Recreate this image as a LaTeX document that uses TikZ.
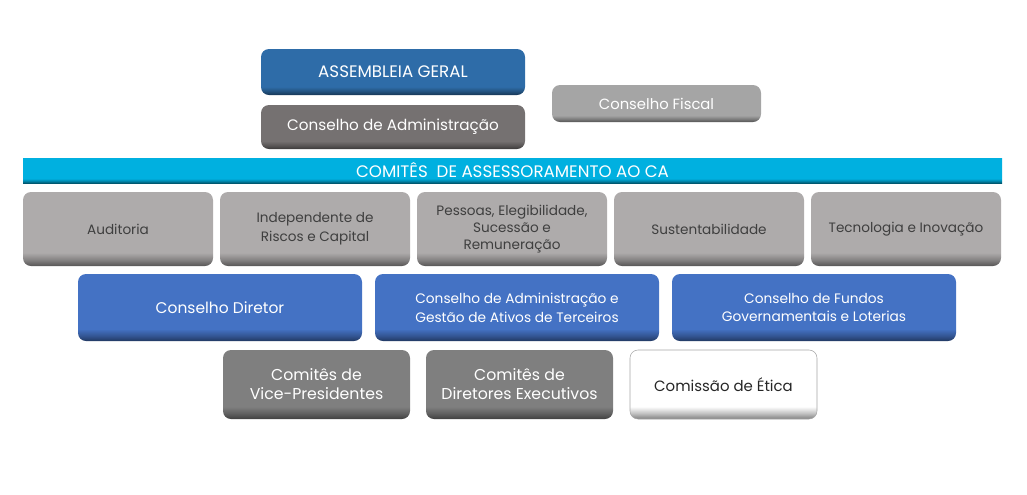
\documentclass[tikz,border=0pt]{standalone}
\usepackage{fontspec}
\setmainfont{Poppins}
\colorlet{basecol}{gray}
\pgfdeclareverticalshading[basecol]{bevel}{100bp}{color(0bp)=(basecol!50!black); color(25bp)=(basecol!50!black); color(29bp)=(basecol!75!black); color(34bp)=(basecol); color(100bp)=(basecol)}
\definecolor{cAG}{HTML}{2E6CA8}
\definecolor{cCA}{HTML}{757171}
\definecolor{cCF}{HTML}{A5A5A5}
\definecolor{cBar}{HTML}{00B0E0}
\definecolor{cCom}{HTML}{AEABAB}
\definecolor{cBlue}{HTML}{4472C4}
\definecolor{cDark}{HTML}{7F7F7F}
\definecolor{tDark}{HTML}{3F3F3F}
\tikzset{
  bev/.style={/utils/exec={\colorlet{basecol}{#1}}, shading=bevel, rounded corners=6pt, inner sep=2pt, align=center},
  fsCaps/.style={font=\fontsize{12.5}{14}\selectfont},
  fsA/.style={font=\fontsize{11.4}{14}\selectfont},
  fsB/.style={font=\fontsize{10.2}{14}\selectfont},
  fsC/.style={font=\fontsize{11.8}{14.3}\selectfont},
}
\begin{document}
\begin{tikzpicture}[x=0.75pt,y=-0.75pt]
\useasboundingbox (0,0) rectangle (1027,494);
\node[bev=cAG, text=white, fsCaps, minimum width=198pt, minimum height=34.5pt] (ag) at (393,72) {ASSEMBLEIA GERAL};
\node[bev=cCA, text=white, fsA, minimum width=198pt, minimum height=33pt] (ca) at (393,127) {Conselho de Administração};
\node[bev=cCF, text=white, fsA, font=\fontsize{11.1}{13}\selectfont, minimum width=156.75pt, minimum height=27.75pt] (cf) at (656.5,103.5) {Conselho Fiscal};
\node[bev=cBar, rounded corners=0pt, text=white, fsCaps, minimum width=734.25pt, minimum height=18.75pt] (bar) at (512.5,170.5) {COMITÊS\ \ DE ASSESSORAMENTO AO CA};
\tikzset{cmbox/.style={bev=cCom, text=tDark, fsB, minimum width=142.5pt, minimum height=55.5pt}}
\node[cmbox] (aud) at (118,229) {Auditoria};
\node[cmbox] (irc) at (315,229) {Independente de\\Riscos e Capital};
\node[cmbox, font=\fontsize{10.2}{12.7}\selectfont] (pes) at (512,229) {Pessoas, Elegibilidade,\\Sucessão e\\Remuneração};
\node[cmbox] (sus) at (709,229) {Sustentabilidade};
\node[cmbox] (tec) at (906,229) {Tecnologia e Inovação};
\tikzset{blbox/.style={bev=cBlue, text=white, font=\fontsize{10.3}{14}\selectfont, minimum width=213pt, minimum height=50.25pt}}
\node[blbox, font=\fontsize{11.6}{14}\selectfont] (cd) at (220,307.5) {Conselho Diretor};
\node[blbox] (cag) at (517,307.5) {Conselho de Administração e\\Gestão de Ativos de Terceiros};
\node[blbox] (cfg) at (814,307.5) {Conselho de Fundos\\Governamentais e Loterias};
\tikzset{dkbox/.style={bev=cDark, text=white, fsC, minimum width=140.25pt, minimum height=51.75pt}}
\node[dkbox] (cvp) at (316.5,384.5) {Comitês de\\Vice-Presidentes};
\node[dkbox] (cde) at (519.5,384.5) {Comitês de\\Diretores Executivos};
\node[bev=white, draw=black!35, text=black!85, font=\fontsize{11.2}{14}\selectfont, minimum width=140.25pt, minimum height=51.75pt] (ce) at (723.5,384.5) {Comissão de Ética};
\end{tikzpicture}
\end{document}
